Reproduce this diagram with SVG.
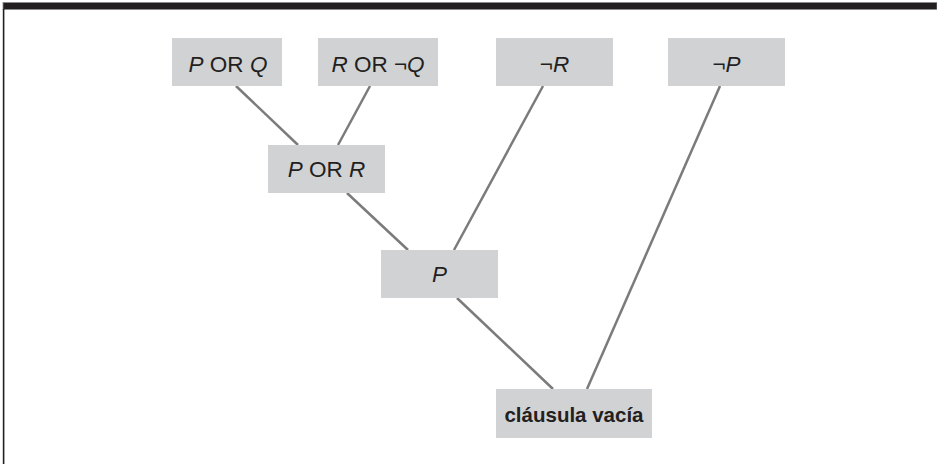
<svg xmlns="http://www.w3.org/2000/svg" width="937" height="464" viewBox="0 0 937 464">
  <style>
    .box { fill: #d1d2d4; }
    .lbl { font-family: "Liberation Sans", Arial, sans-serif; font-size: 22.5px; fill: #231f20; text-anchor: middle; }
    .bold { font-weight: bold; font-size: 20.5px; }
    .it { font-style: italic; }
    .edge { stroke: #7b7b7b; stroke-width: 2.5; fill: none; }
  </style>
  <rect width="937" height="464" fill="#ffffff"/>
  <!-- frame -->
  <rect x="3" y="2.5" width="934" height="7" fill="#231f20" stroke="#8a8a8a" stroke-width="0.8"/>
  <line x1="3.6" y1="9" x2="3.6" y2="464" stroke="#231f20" stroke-width="1.6"/>

  <g id="connectors">
    <line class="edge" x1="236" y1="86" x2="298" y2="145"/>
    <line class="edge" x1="370" y1="86" x2="338" y2="145"/>
    <line class="edge" x1="543" y1="86" x2="454" y2="250"/>
    <line class="edge" x1="720" y1="86" x2="587" y2="389"/>
    <line class="edge" x1="347" y1="193" x2="408" y2="250"/>
    <line class="edge" x1="457" y1="298" x2="553" y2="389"/>
  </g>

  <g id="n-porq">
    <rect class="box" x="172" y="38" width="110" height="48"/>
    <text class="lbl" x="228" y="71.5"><tspan class="it">P</tspan> OR <tspan class="it">Q</tspan></text>
  </g>
  <g id="n-rornotq">
    <rect class="box" x="318" y="38" width="120" height="48"/>
    <text class="lbl" x="378" y="71.5"><tspan class="it">R</tspan> OR ¬<tspan class="it">Q</tspan></text>
  </g>
  <g id="n-notr">
    <rect class="box" x="496" y="38" width="117" height="48"/>
    <text class="lbl" x="554.5" y="71.5">¬<tspan class="it">R</tspan></text>
  </g>
  <g id="n-notp">
    <rect class="box" x="668" y="38" width="117" height="48"/>
    <text class="lbl" x="726.5" y="71.5">¬<tspan class="it">P</tspan></text>
  </g>
  <g id="n-porr">
    <rect class="box" x="268" y="145" width="117" height="48"/>
    <text class="lbl" x="326.5" y="177"><tspan class="it">P</tspan> OR <tspan class="it">R</tspan></text>
  </g>
  <g id="n-p">
    <rect class="box" x="381" y="250" width="117" height="48"/>
    <text class="lbl" x="439.5" y="282"><tspan class="it">P</tspan></text>
  </g>
  <g id="n-empty">
    <rect class="box" x="496" y="389" width="156" height="49"/>
    <text class="lbl bold" x="574" y="422">cláusula vacía</text>
  </g>
</svg>
